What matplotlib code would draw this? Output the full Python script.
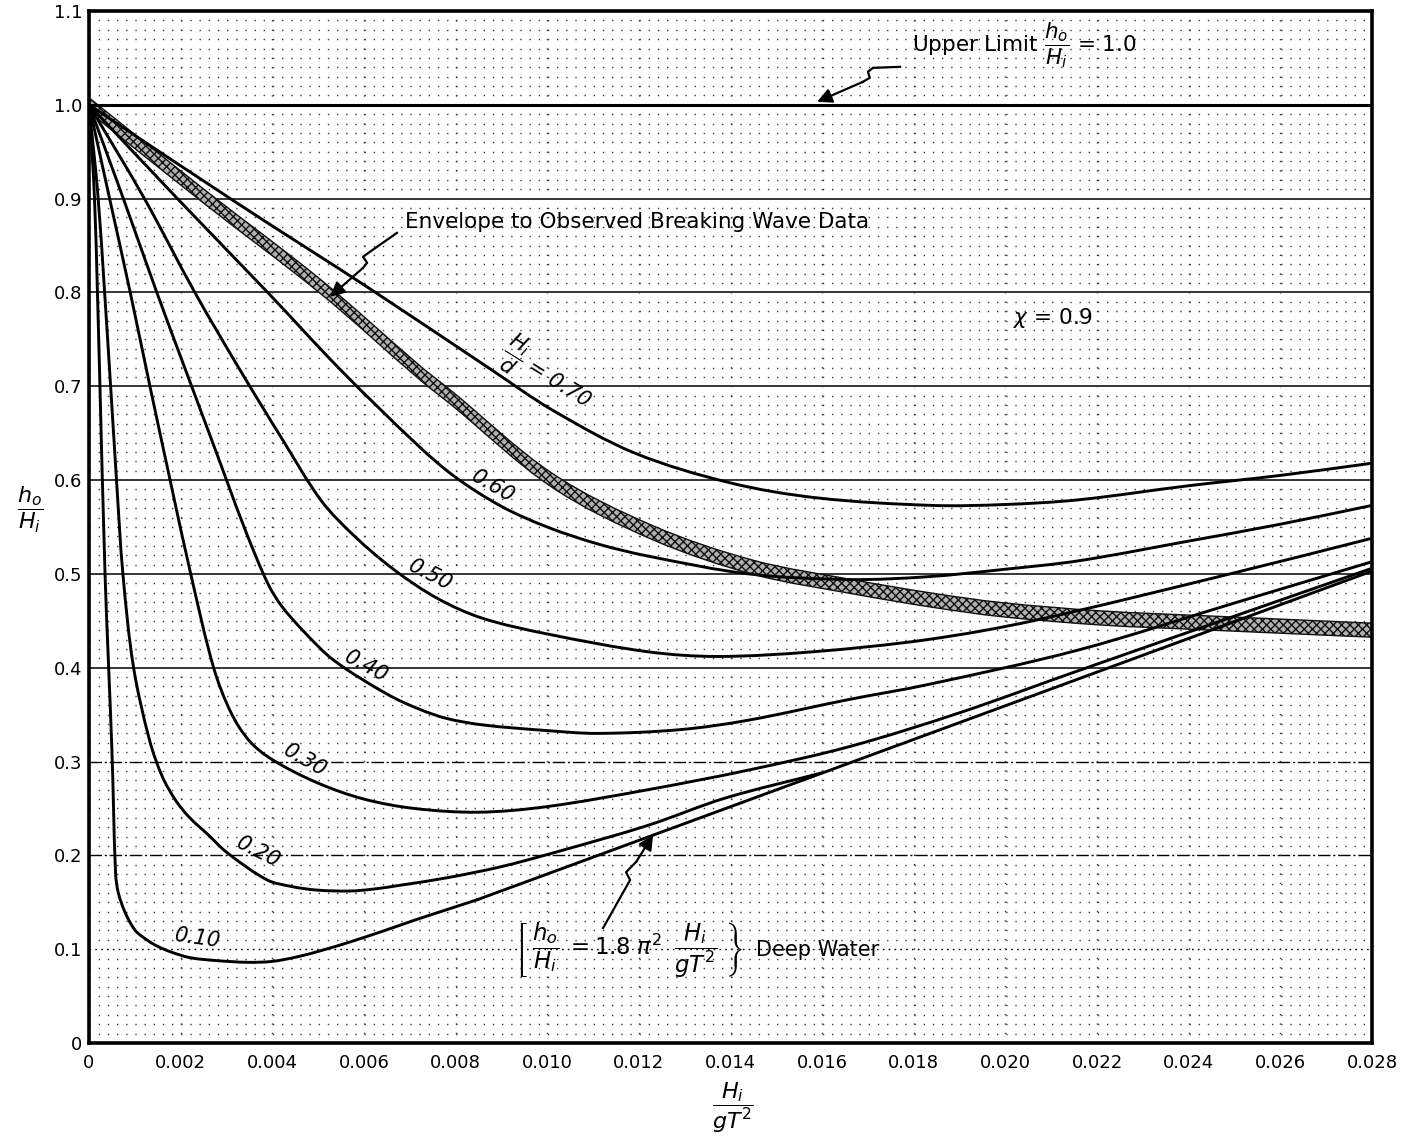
import matplotlib
matplotlib.use('Agg')
import matplotlib.pyplot as plt
from matplotlib.path import Path
from matplotlib.patches import PathPatch

plt.rcParams['font.family'] = ['DejaVu Sans']
plt.rcParams['mathtext.fontset'] = 'dejavusans'
plt.rcParams['lines.scale_dashes'] = False
plt.rcParams['hatch.linewidth'] = 1.0

# ---------------- data ----------------
x_ticks = [0, 0.002, 0.004, 0.006, 0.008, 0.010, 0.012, 0.014, 0.016, 0.018,
           0.020, 0.022, 0.024, 0.026, 0.028]
x_tick_labels = ['0', '0.002', '0.004', '0.006', '0.008', '0.010', '0.012', '0.014',
                 '0.016', '0.018', '0.020', '0.022', '0.024', '0.026', '0.028']
y_ticks = [0, 0.1, 0.2, 0.3, 0.4, 0.5, 0.6, 0.7, 0.8, 0.9, 1.0, 1.1]
y_tick_labels = ['0', '0.1', '0.2', '0.3', '0.4', '0.5', '0.6', '0.7', '0.8', '0.9', '1.0', '1.1']

# H_i/d = 0.10
c010_x = [0, 0.00012, 0.00023, 0.00035, 0.0005, 0.00058, 0.00064, 0.00079, 0.00101,
          0.00129, 0.0015, 0.00179, 0.0022, 0.00274, 0.00346, 0.0040, 0.00456, 0.0051,
          0.00565, 0.0064, 0.00711, 0.0078, 0.00849]
c010_y = [1.0, 0.9, 0.717, 0.5, 0.312, 0.181, 0.160, 0.139, 0.120,
          0.109, 0.103, 0.097, 0.091, 0.088, 0.086, 0.087, 0.092, 0.099,
          0.107, 0.119, 0.131, 0.142, 0.153]
# H_i/d = 0.20
c020_x = [0, 0.0002, 0.00045, 0.0006, 0.00074, 0.00097, 0.00132, 0.0016, 0.0019,
          0.0022, 0.0026, 0.00301, 0.00388, 0.0044, 0.00497, 0.00569, 0.0062, 0.00677,
          0.0078, 0.0090, 0.01023, 0.0122, 0.01388, 0.0160]
c020_y = [1.0, 0.9, 0.717, 0.600, 0.500, 0.401, 0.323, 0.284, 0.258,
          0.240, 0.222, 0.203, 0.174, 0.167, 0.163, 0.162, 0.164, 0.168,
          0.176, 0.188, 0.204, 0.232, 0.261, 0.288]
# H_i/d = 0.30
c030_x = [0, 0.00045, 0.0009, 0.00133, 0.00177, 0.00222, 0.00272, 0.0031, 0.0035,
          0.0040, 0.0050, 0.0060, 0.0071, 0.0085, 0.0100, 0.0122, 0.0144,
          0.0166, 0.0190, 0.0216, 0.0250, 0.028]
c030_y = [1.0, 0.9, 0.8, 0.7, 0.6, 0.5, 0.400, 0.352, 0.322,
          0.302, 0.277, 0.260, 0.250, 0.246, 0.252, 0.270, 0.291,
          0.316, 0.352, 0.397, 0.455, 0.506]
# H_i/d = 0.40
c040_x = [0, 0.00075, 0.00148, 0.00211, 0.00276, 0.0034, 0.0039, 0.0042, 0.0047,
          0.00534, 0.0065, 0.0072, 0.0078, 0.0086, 0.0100, 0.0111, 0.0129, 0.01438,
          0.01657, 0.0183, 0.0216, 0.025, 0.028]
c040_y = [1.0, 0.9, 0.8, 0.717, 0.632, 0.548, 0.490, 0.466, 0.438,
          0.408, 0.372, 0.356, 0.346, 0.339, 0.333, 0.330, 0.334, 0.344,
          0.366, 0.382, 0.419, 0.469, 0.513]
# H_i/d = 0.50
c050_x = [0, 0.00121, 0.00231, 0.0033, 0.0042, 0.00507, 0.0058, 0.00667, 0.0076,
          0.00857, 0.0100, 0.0122, 0.0137, 0.0158, 0.0183, 0.0206, 0.0249, 0.028]
c050_y = [1.0, 0.9, 0.8, 0.717, 0.645, 0.578, 0.540, 0.504, 0.474,
          0.453, 0.436, 0.417, 0.412, 0.417, 0.430, 0.450, 0.500, 0.538]
# H_i/d = 0.60
c060_x = [0, 0.00193, 0.0039, 0.0055, 0.0072, 0.0080, 0.0090, 0.0100, 0.0111,
          0.0122, 0.0144, 0.0166, 0.0183, 0.0200, 0.0216, 0.0240, 0.0260, 0.028]
c060_y = [1.0, 0.9, 0.8, 0.717, 0.636, 0.603, 0.572, 0.550, 0.532,
          0.519, 0.500, 0.494, 0.497, 0.505, 0.514, 0.535, 0.553, 0.573]
# H_i/d = 0.70
c070_x = [0, 0.00324, 0.00616, 0.0088, 0.0101, 0.0119, 0.0140, 0.0159, 0.0184,
          0.0200, 0.0216, 0.0240, 0.0260, 0.028]
c070_y = [1.0, 0.895, 0.803, 0.717, 0.675, 0.629, 0.597, 0.581, 0.573,
          0.574, 0.579, 0.594, 0.605, 0.618]
# Deep water line
deep_x = [0.00849, 0.028]
deep_y = [0.153, 0.503]
# Envelope to observed breaking wave data
env_x = [0, 0.00252, 0.00506, 0.00723, 0.0079, 0.0101, 0.0123, 0.0145, 0.0167,
         0.0184, 0.0199, 0.0221, 0.0243, 0.028]
env_y = [1.0, 0.902, 0.806, 0.714, 0.688, 0.600, 0.544, 0.507, 0.486,
         0.472, 0.462, 0.453, 0.448, 0.440]
# Upper limit
upper_x = [0, 0.028]
upper_y = [1.0, 1.0]

curves = [(c010_x, c010_y), (c020_x, c020_y), (c030_x, c030_y), (c040_x, c040_y),
          (c050_x, c050_y), (c060_x, c060_y), (c070_x, c070_y)]
curve_labels = ['0.10', '0.20', '0.30', '0.40', '0.50', '0.60', r'$\dfrac{H_i}{d}$ = 0.70']
label_pos = [(0.00238, 0.112, -8), (0.00369, 0.203, -27), (0.00471, 0.301, -30),
             (0.00605, 0.401, -28), (0.00744, 0.499, -27), (0.00882, 0.593, -30),
             (0.01000, 0.712, -32)]

# ---------------- figure ----------------
W, H = 1423, 1138
fig = plt.figure(figsize=(W / 100, H / 100), dpi=100)
ax = fig.add_axes([89 / W, 95 / H, (1372 - 89) / W, (1043 - 11) / H])
ax.set_xlim(0, 0.028)
ax.set_ylim(0, 1.1)

SX = 1283 / 0.028   # approx pixel scale, used only for smoothing geometry
SY = 1032 / 1.1


def smooth_path(xs, ys):
    """Cubic Bezier path passing through every read point (chordal Catmull-Rom)."""
    P = [(x * SX, y * SY) for x, y in zip(xs, ys)]
    n = len(P)
    verts = [P[0]]
    codes = [Path.MOVETO]

    def dist(a, b):
        return ((a[0] - b[0]) ** 2 + (a[1] - b[1]) ** 2) ** 0.5

    for i in range(n - 1):
        p0 = P[i - 1] if i > 0 else P[i]
        p1 = P[i]
        p2 = P[i + 1]
        p3 = P[i + 2] if i + 2 < n else P[i + 1]
        d12 = dist(p1, p2)
        d01 = dist(p0, p1) if i > 0 else 0.0
        d23 = dist(p2, p3) if i + 2 < n else 0.0
        f1 = d12 / (3.0 * (d01 + d12)) if (d01 + d12) > 0 else 0
        f2 = d12 / (3.0 * (d12 + d23)) if (d12 + d23) > 0 else 0
        c1 = (p1[0] + (p2[0] - p0[0]) * f1, p1[1] + (p2[1] - p0[1]) * f1)
        c2 = (p2[0] - (p3[0] - p1[0]) * f2, p2[1] - (p3[1] - p1[1]) * f2)
        verts += [c1, c2, p2]
        codes += [Path.CURVE4] * 3
    verts = [(vx / SX, vy / SY) for vx, vy in verts]
    return Path(verts, codes)


# graph-paper grid
gcol = '#3a3a3a'
for k in range(1, 110):
    if k % 10 == 0:
        continue
    ax.axhline(k / 100.0, color=gcol, lw=1.0, ls=(0, (1.0, 5.6)), zorder=0)
for k in range(1, 10):
    yv = k / 10.0
    if k == 1:
        ax.axhline(yv, color='black', lw=1.0, ls=(0, (1.2, 3.0)), zorder=0)
    elif k <= 3:
        ax.axhline(yv, color='black', lw=1.0, ls=(0, (9, 2, 1.5, 2)), zorder=0)
    else:
        ax.axhline(yv, color='black', lw=1.1, zorder=0)
for xv in x_ticks[1:-1]:
    ax.axvline(xv, color=gcol, lw=1.0, ls=(0, (1.0, 5.75)), zorder=0)

# upper limit line
ax.plot(upper_x, upper_y, color='black', lw=2.2, zorder=3)

# envelope band (hatched), following a smooth centre line
env_path = smooth_path(env_x, env_y)
ev = env_path.vertices
top = [(vx, vy + 0.0075) for vx, vy in ev]
bot = [(vx, vy - 0.0075) for vx, vy in ev[::-1]]
bot_codes = [Path.LINETO] + list(env_path.codes[::-1][:-1])
band_verts = top + bot + [top[0]]
band_codes = list(env_path.codes) + bot_codes + [Path.CLOSEPOLY]
ax.add_patch(PathPatch(Path(band_verts, band_codes), facecolor='#b0b0b0',
                       edgecolor='#111111', hatch='xxxx', linewidth=1.0, zorder=2))

# curves
for cx, cy in curves:
    ax.add_patch(PathPatch(smooth_path(cx, cy), facecolor='none', edgecolor='black',
                           lw=2.1, joinstyle='round', capstyle='round', zorder=4))
ax.plot(deep_x, deep_y, color='black', lw=2.1, zorder=4)

# curve labels
for txt, (lx, ly, rot) in zip(curve_labels, label_pos):
    ax.text(lx, ly, txt, fontsize=15, fontstyle='italic', rotation=rot,
            ha='center', va='center', rotation_mode='anchor', zorder=5)

# ticks & frame
ax.set_xticks(x_ticks)
ax.set_xticklabels(x_tick_labels)
ax.set_yticks(y_ticks)
ax.set_yticklabels(y_tick_labels)
ax.tick_params(axis='x', length=0, labelsize=13, pad=8)
ax.tick_params(axis='y', length=0, labelsize=13, pad=5)
for sp in ax.spines.values():
    sp.set_linewidth(2.6)
    sp.set_zorder(6)


def wavy_arrow(pts):
    xs = [p[0] for p in pts[:-1]]
    ys = [p[1] for p in pts[:-1]]
    ax.plot(xs, ys, color='black', lw=1.6, zorder=7, solid_joinstyle='round')
    ax.annotate('', xy=pts[-1], xytext=pts[-2],
                arrowprops=dict(arrowstyle='-|>', color='black', lw=1.6,
                                mutation_scale=22, shrinkA=0, shrinkB=0),
                zorder=7)


# Upper limit annotation
ax.text(0.01796, 1.064, r'Upper Limit $\dfrac{h_o}{H_i}$ = 1.0', fontsize=15.5,
        ha='left', va='center', zorder=7)
wavy_arrow([(0.01770, 1.0405), (0.01711, 1.0394), (0.01700, 1.0352),
            (0.01704, 1.0288), (0.01689, 1.0245), (0.01589, 1.0032)])

# Envelope annotation
ax.text(0.0069, 0.875, 'Envelope to Observed Breaking Wave Data', fontsize=15.5,
        ha='left', va='center', zorder=7)
wavy_arrow([(0.00672, 0.8635), (0.00613, 0.8433), (0.00598, 0.8380),
            (0.00607, 0.8316), (0.00598, 0.8262), (0.00526, 0.7953)])

# chi
ax.text(0.02017, 0.773, r'$\chi$ = 0.9', fontsize=15.5, ha='left', va='center', zorder=7)

# Deep water annotation
ax.text(0.01428, 0.099,
        r'$\left[\;\dfrac{h_o}{H_i}\; = 1.8\;\pi^2\;\;\dfrac{H_i}{gT^2}\;\right\}$',
        fontsize=16.5, ha='right', va='center', zorder=7)
ax.text(0.01456, 0.099, 'Deep Water', fontsize=15, ha='left', va='center', zorder=7)
wavy_arrow([(0.01122, 0.1226), (0.01181, 0.1738), (0.01172, 0.1820),
            (0.01194, 0.1930), (0.01231, 0.2217)])

# axis labels
fig.text(30 / W, 1 - 510 / H, r'$\dfrac{h_o}{H_i}$', fontsize=16, ha='center', va='center')
fig.text(733 / W, 1 - 1108 / H, r'$\dfrac{H_i}{gT^2}$', fontsize=16, ha='center', va='center')

fig.savefig('out.png', dpi=100)
